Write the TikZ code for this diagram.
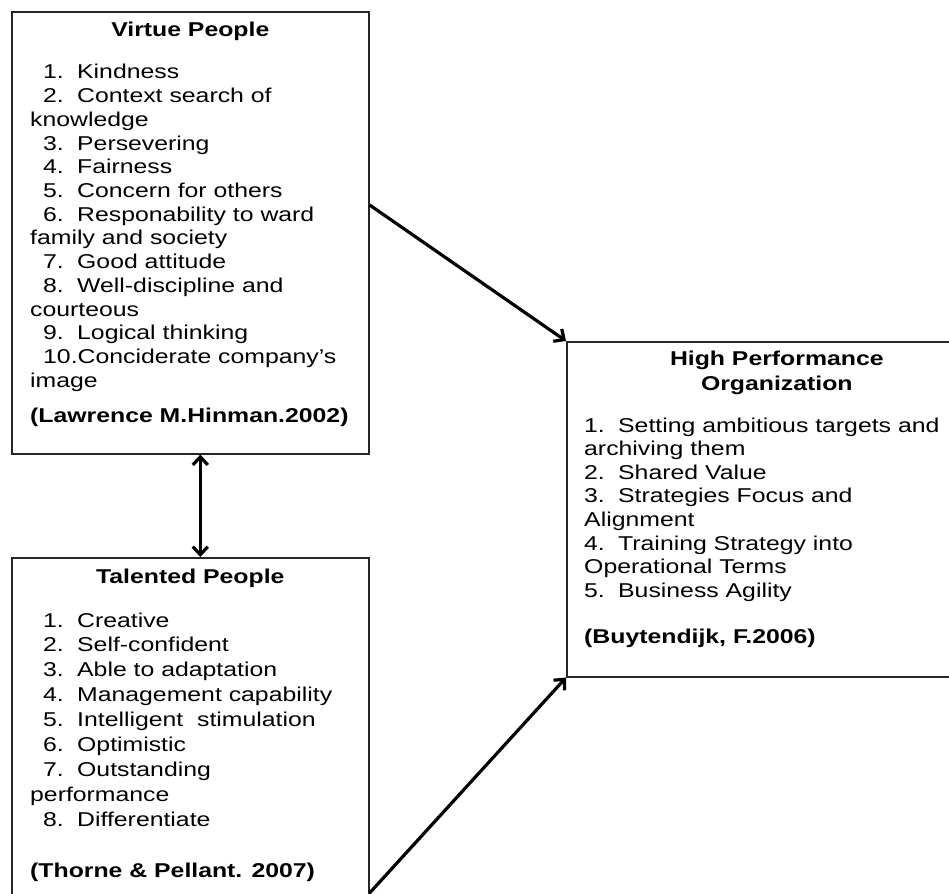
\documentclass[tikz,border=0pt]{standalone}
\usepackage{fontspec}
\setmainfont[FakeStretch=1.24]{Liberation Sans}
\usetikzlibrary{arrows.meta,calc}
\newcommand{\itm}[2]{\hspace*{13pt}\makebox[34pt][l]{#1}#2}
\newcommand{\jtm}[2]{\makebox[34pt][l]{#1}#2}
\begin{document}
\begin{tikzpicture}[x=1pt,y=-1pt,
  box/.style={draw=black!85, line width=1.6pt, rectangle, inner sep=0pt, anchor=north west},
  txt/.style={anchor=base west, inner sep=0pt, font=\fontsize{20}{24}\selectfont},
  cite/.style={anchor=base west, inner sep=0pt, font=\fontsize{20}{24}\selectfont\bfseries},
  ttl/.style={anchor=base, inner sep=0pt, font=\fontsize{20}{24}\selectfont\bfseries},
  arr/.style={line width=3.2pt, -{Straight Barb[length=8pt,width=15pt]}},
  darr/.style={line width=3.2pt, {Straight Barb[length=8pt,width=15pt]}-{Straight Barb[length=8pt,width=15pt]}}]
\useasboundingbox (0,0) rectangle (949,893);
\clip (0,0) rectangle (949,893);
\fill[white] (0,0) rectangle (949,893);
% boxes
\node[box, minimum width=357pt, minimum height=442pt] (vbox) at (11,11) {};
\node[box, minimum width=357pt, minimum height=400pt] (tbox) at (11,557) {};
\node[box, minimum width=420pt, minimum height=335pt] (hbox) at (566,341) {};
% titles
\node[ttl] (vtitle) at ($(vbox.north)+(0,26)$) {Virtue People};
\node[ttl] (ttitle) at ($(tbox.north)+(0,26)$) {Talented People};
\node[ttl] (htitle1) at ($(hbox.north)+(0,24)$) {High Performance};
\node[ttl] (htitle2) at ($(hbox.north)+(0,49)$) {Organization};
% virtue list
\foreach \t [count=\i] in {
  {\itm{1.}{Kindness}},
  {\itm{2.}{Context search of}},
  {knowledge},
  {\itm{3.}{Persevering}},
  {\itm{4.}{Fairness}},
  {\itm{5.}{Concern for others}},
  {\itm{6.}{Responability to ward}},
  {family and society},
  {\itm{7.}{Good attitude}},
  {\itm{8.}{Well-discipline and}},
  {courteous},
  {\itm{9.}{Logical thinking}},
  {\hspace*{13pt}10.Conciderate company's},
  {image}}
  \node[txt] (v\i) at (30,{79+23.7*(\i-1)}) {\t};
\node[cite] (vcite) at (30,422) {(Lawrence M.Hinman.2002)};
% talented list
\foreach \t [count=\i] in {
  {\itm{1.}{Creative}},
  {\itm{2.}{Self-confident}},
  {\itm{3.}{Able to adaptation}},
  {\itm{4.}{Management capability}},
  {\itm{5.}{Intelligent\ \ stimulation}},
  {\itm{6.}{Optimistic}},
  {\itm{7.}{Outstanding}},
  {performance},
  {\itm{8.}{Differentiate}}}
  \node[txt] (t\i) at (30,{627+24.9*(\i-1)}) {\t};
\node[cite] (tcite) at (30,877) {(Thorne \& Pellant. 2007)};
% HPO list
\foreach \t [count=\i] in {
  {\jtm{1.}{Setting ambitious targets and}},
  {archiving them},
  {\jtm{2.}{Shared Value}},
  {\jtm{3.}{Strategies Focus and}},
  {Alignment},
  {\jtm{4.}{Training Strategy into}},
  {Operational Terms},
  {\jtm{5.}{Business Agility}}}
  \node[txt] (h\i) at (584,{432+23.6*(\i-1)}) {\t};
\node[cite] (hcite) at (584,643) {(Buytendijk, F.2006)};
% connectors
\draw[arr] ([yshift=-194pt]vbox.north east) -- (hbox.north west);
\draw[arr] ([yshift=-336pt]tbox.north east) -- (hbox.south west);
\draw[darr] ([xshift=10pt]vbox.south) -- ([xshift=10pt]tbox.north);
\end{tikzpicture}
\end{document}
